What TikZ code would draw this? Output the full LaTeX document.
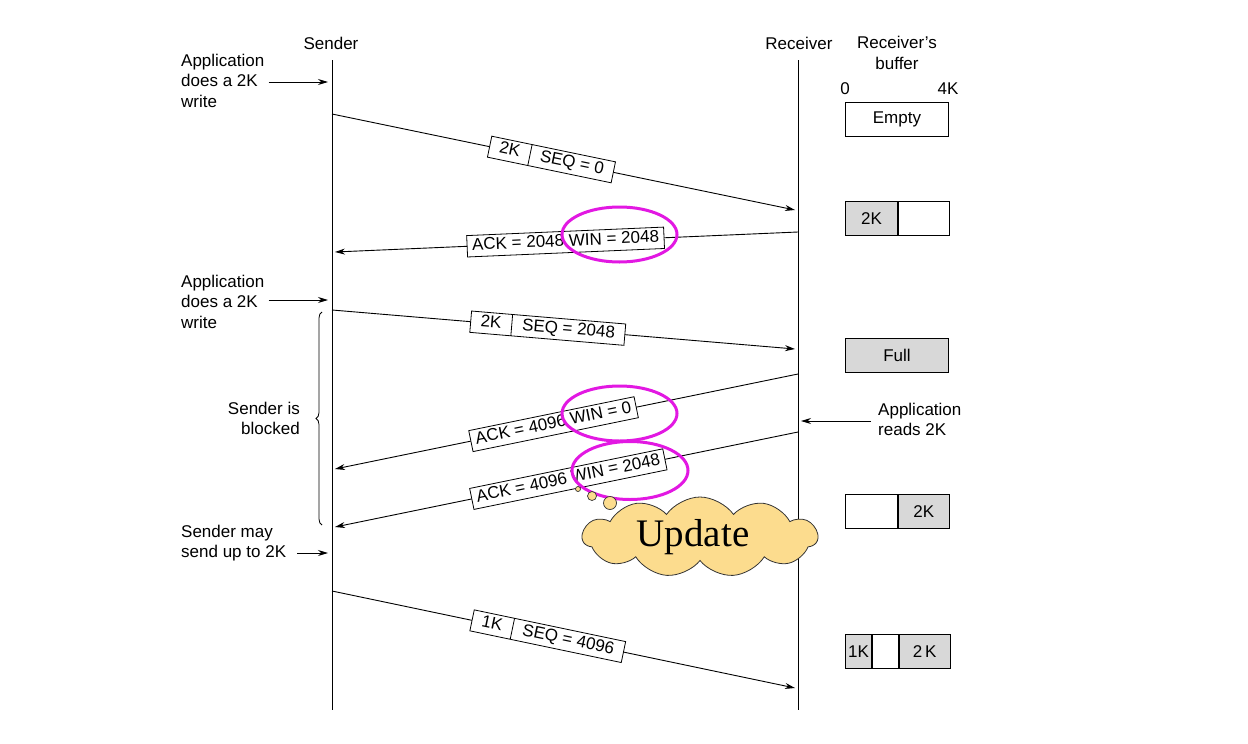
\documentclass[tikz,border=0pt]{standalone}
\usepackage{fontspec}
\setmainfont{Liberation Sans}
\newfontfamily\updfont{Liberation Serif}
\usetikzlibrary{arrows.meta,shapes.multipart,shapes.geometric,shapes.symbols,decorations.pathreplacing}
\definecolor{bufgray}{RGB}{216,216,216}
\definecolor{hilite}{RGB}{226,24,226}
\definecolor{cloudfill}{RGB}{252,220,142}
\begin{document}
\begin{tikzpicture}[x=1pt,y=-1pt,
  every node/.style={font=\fontsize{17}{20.5}\selectfont},
  lifeline/.style={line width=1pt},
  msg/.style={line width=0.9pt,-{Stealth[length=10pt,width=6pt]}},
  arr/.style={line width=0.9pt,-{Stealth[length=10pt,width=6pt]}},
  seg/.style={draw,fill=white,line width=0.8pt,rectangle split,rectangle split horizontal,rectangle split parts=2,inner xsep=10pt,inner ysep=3pt,sloped},
  ack/.style={draw,fill=white,line width=0.8pt,inner xsep=5pt,inner ysep=3pt,sloped},
  buf/.style={draw,line width=0.9pt,minimum height=34pt,inner sep=0pt,anchor=north west},
  hl/.style={draw=hilite,line width=3pt,ellipse,minimum width=115pt,minimum height=55pt,inner sep=0pt},
  lbl/.style={inner sep=0pt},
  bubble/.style={circle,draw=black!80,fill=cloudfill,line width=0.7pt,inner sep=0pt}
]
\useasboundingbox (0,0) rectangle (1248,744);

% lifelines
\node[lbl] (sender) at (331,43) {Sender};
\node[lbl] (receiver) at (799,43) {Receiver};
\node[lbl,align=center] (rbuf) at (897,53) {Receiver's\\buffer};
\coordinate (stop) at (332,60); \coordinate (sbot) at (332,710);
\coordinate (rtop) at (798,60); \coordinate (rbot) at (798,710);
\draw[lifeline] (stop) -- (sbot);
\draw[lifeline] (rtop) -- (rbot);

% left side labels
\node[lbl,align=left,anchor=west] (app1) at (181,80.5) {Application\\does a 2K\\write};
\coordinate (a1e) at (328,82);
\draw[arr] ([xshift=4pt]app1.east |- a1e) -- (a1e);
\node[lbl,align=left,anchor=west] (app2) at (181,301.5) {Application\\does a 2K\\write};
\coordinate (a2e) at (328,300);
\draw[arr] ([xshift=4pt]app2.east |- a2e) -- (a2e);
\node[lbl,align=left,anchor=west] (smay) at (181,543) {Sender may\\send up to 2K};
\coordinate (a3s) at (297,553); \coordinate (a3e) at (328,553);
\draw[arr] (a3s) -- (a3e);
\node[lbl,align=right,anchor=east] (blocked) at (300,418.5) {Sender is\\blocked};
\coordinate (bb) at (322,525); \coordinate (bt) at (322,312);
\draw[decorate,decoration={brace,amplitude=6pt},line width=0.8pt] (bb) -- (bt);

% right side labels
\node[lbl,align=left,anchor=west] (reads) at (878,419.5) {Application\\reads 2K};
\coordinate (a4s) at (871,421); \coordinate (a4e) at (801,421);
\draw[arr] (a4s) -- (a4e);
\node[lbl] (zero) at (845,89) {0};
\node[lbl] (fourk) at (948,89) {4K};

% buffers
\node[buf,minimum width=103pt] (b1) at (845,102) {Empty};
\node[buf,fill=bufgray,minimum width=52pt] (b2a) at (845,201) {2K};
\node[buf,minimum width=51pt] (b2b) at (b2a.north east) {};
\node[buf,fill=bufgray,minimum width=103pt] (b3) at (845,338) {Full};
\node[buf,minimum width=52pt] (b4a) at (845,494) {};
\node[buf,fill=bufgray,minimum width=51pt] (b4b) at (b4a.north east) {2K};
\node[buf,fill=bufgray,minimum width=26pt] (b5a) at (845,634) {1K};
\node[buf,minimum width=26pt] (b5b) at (b5a.north east) {};
\node[buf,fill=bufgray,minimum width=51pt] (b5c) at (b5b.north east) {2\,K};

% messages
\coordinate (s1) at (332,114); \coordinate (r1) at (795,210);
\draw[msg] (s1) -- node[seg,pos=0.474] (m1) {2K\vphantom{Qy}\nodepart{two}SEQ = 0\vphantom{Qy}} (r1);
\coordinate (r2) at (798,232); \coordinate (s2) at (335,252);
\draw[msg] (r2) -- node[ack,pos=0.502] (m2) {ACK = 2048 WIN = 2048\vphantom{Qy}} (s2);
\coordinate (s3) at (332,310); \coordinate (r3) at (795,349);
\draw[msg] (s3) -- node[seg,pos=0.466] (m3) {2K\vphantom{Qy}\nodepart{two}SEQ = 2048\vphantom{Qy}} (r3);
\coordinate (r4) at (798,374); \coordinate (s4) at (335,469);
\draw[msg] (r4) -- node[ack,pos=0.528] (m4) {ACK = 4096 WIN = 0\vphantom{Qy}} (s4);
\coordinate (r5) at (798,432); \coordinate (s5) at (335,527);
\draw[msg] (r5) -- node[ack,pos=0.496] (m5) {ACK = 4096 WIN = 2048\vphantom{Qy}} (s5);
\coordinate (s6) at (332,591); \coordinate (r6) at (795,688);
\draw[msg] (s6) -- node[seg,pos=0.466] (m6) {1K\vphantom{Qy}\nodepart{two}SEQ = 4096\vphantom{Qy}} (r6);

% highlights
\node[hl] (e1) at (619.5,234.5) {};
\node[hl] (e2) at (619.5,413.5) {};
\node[hl,minimum width=116pt,minimum height=58pt] (e3) at (630,470.5) {};

% thought cloud
\node[bubble,minimum size=5pt] (t1) at (578,489) {};
\node[bubble,minimum size=9pt] (t2) at (592,496) {};
\node[bubble,minimum size=13pt] (t3) at (610,503) {};
\node[cloud,cloud puffs=11,cloud puff arc=110,cloud ignores aspect,draw=black!80,fill=cloudfill,line width=0.8pt,minimum width=235pt,minimum height=80pt,inner sep=0pt,font=\updfont\fontsize{39}{40}\selectfont] (upd) at (700,537) {Update\hspace*{14pt}};
\end{tikzpicture}
\end{document}
